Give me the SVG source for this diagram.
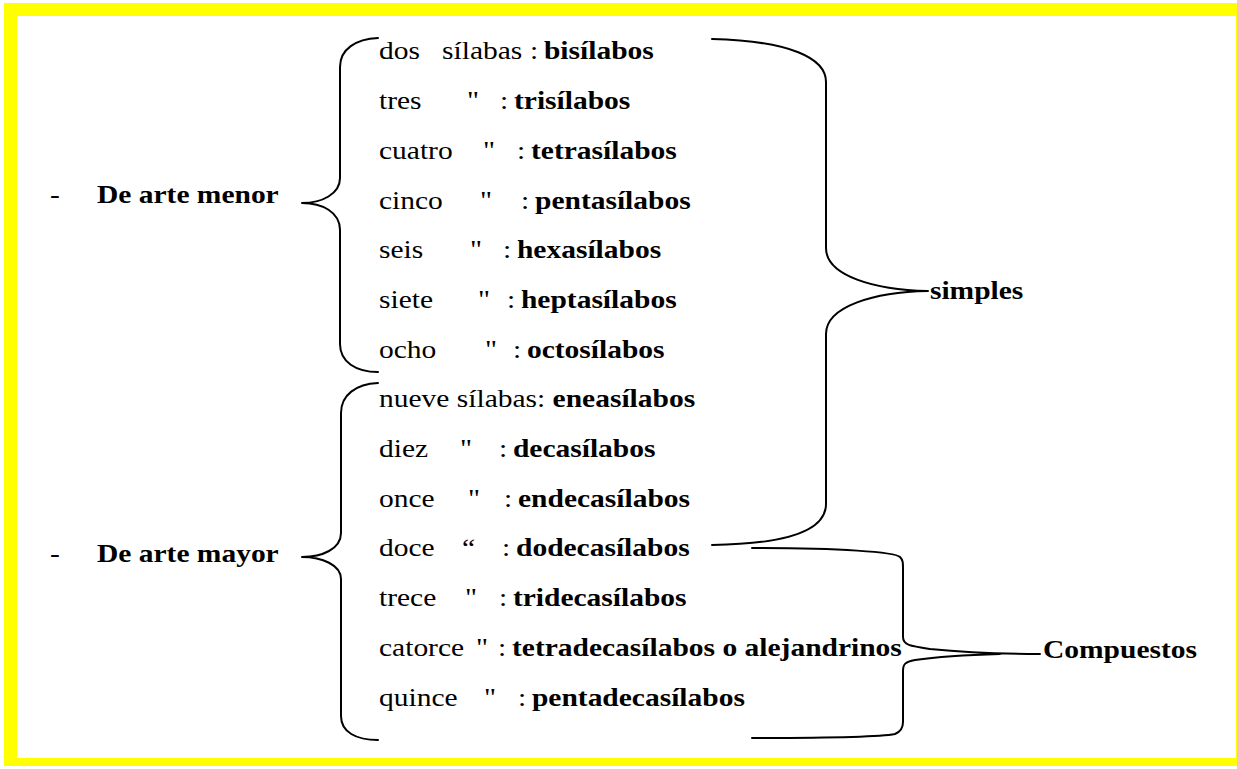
<svg xmlns="http://www.w3.org/2000/svg" width="1237" height="769" viewBox="0 0 1237 769">
<style>
text{font-family:"Liberation Serif","Times New Roman",serif;font-size:25px;fill:#000}
.b{font-weight:bold}
.br{fill:none;stroke:#000;stroke-width:2;stroke-linecap:round;stroke-linejoin:round}
</style>
<rect x="0" y="0" width="1237" height="769" fill="#fff"/>
<rect x="4" y="3" width="1233" height="763" fill="#ffff00"/>
<rect x="17" y="16" width="1219" height="742" fill="#fff"/>
<g id="connectors">
<path class="br" d="M378,38 C356,39 340,49 340,67 L340,178 C340,194 322,203 302,203 C322,203 340,212 340,230 L340,344 C340,362 356,372 378,372"/>
<path class="br" d="M378,383 C356,384 341,395 341,413 L341,533 C341,549 322,557 302,557 C322,557 341,565 341,579 L341,716 C341,732 356,740 378,740"/>
<path class="br" d="M712,39 C790,41 826,58 826,82 L826,248 C826,276 875,290 928,291 C875,292 826,306 826,334 L826,504 C826,530 790,544 712,545"/>
<path class="br" d="M752,548 C840,548 895,552 900,557 C903,560 903,563 903,568 L903,637 C903,645 910,646 930,649 C960,652 990,654 1040,654 M1000,654 C960,655 935,657 915,660 C905,662 903,664 903,671 L903,722 C903,728 900,732 895,734 C880,737 840,738 752,738"/>
</g>
<g transform="scale(1.18 1)">
<g id="menor"><text x="42.4" y="203">-</text><text class="b" x="82.2" y="203">De arte menor</text></g>
<g id="mayor"><text x="42.4" y="562">-</text><text class="b" x="82.2" y="562">De arte mayor</text></g>
<g id="simples"><text class="b" x="788.1" y="299">simples</text></g>
<g id="compuestos"><text class="b" x="883.9" y="658">Compuestos</text></g>
<g id="r1"><text x="321.2" y="59.5">dos</text><text x="374.6" y="59.5">sílabas</text><text x="449.2" y="59.5">:</text><text class="b" x="461" y="59.5">bisílabos</text></g>
<g id="r2"><text x="321.2" y="109.2">tres</text><text x="395.8" y="109.2">"</text><text x="423.7" y="109.2">:</text><text class="b" x="435.6" y="109.2">trisílabos</text></g>
<g id="r3"><text x="321.2" y="158.9">cuatro</text><text x="409.3" y="158.9">"</text><text x="438.1" y="158.9">:</text><text class="b" x="450" y="158.9">tetrasílabos</text></g>
<g id="r4"><text x="321.2" y="208.6">cinco</text><text x="406.8" y="208.6">"</text><text x="441.5" y="208.6">:</text><text class="b" x="453.4" y="208.6">pentasílabos</text></g>
<g id="r5"><text x="321.2" y="258.3">seis</text><text x="398.3" y="258.3">"</text><text x="426.3" y="258.3">:</text><text class="b" x="438.1" y="258.3">hexasílabos</text></g>
<g id="r6"><text x="321.2" y="308">siete</text><text x="405.1" y="308">"</text><text x="429.7" y="308">:</text><text class="b" x="441.5" y="308">heptasílabos</text></g>
<g id="r7"><text x="321.2" y="357.7">ocho</text><text x="411" y="357.7">"</text><text x="434.7" y="357.7">:</text><text class="b" x="446.6" y="357.7">octosílabos</text></g>
<g id="r8"><text x="321.2" y="407.4">nueve sílabas: <tspan class="b">eneasílabos</tspan></text></g>
<g id="r9"><text x="321.2" y="457.1">diez</text><text x="389.8" y="457.1">"</text><text x="422.9" y="457.1">:</text><text class="b" x="434.7" y="457.1">decasílabos</text></g>
<g id="r10"><text x="321.2" y="506.8">once</text><text x="396.6" y="506.8">"</text><text x="427.1" y="506.8">:</text><text class="b" x="439" y="506.8">endecasílabos</text></g>
<g id="r11"><text x="321.2" y="556.5">doce</text><text x="391.5" y="556.5">“</text><text x="425.4" y="556.5">:</text><text class="b" x="437.3" y="556.5">dodecasílabos</text></g>
<g id="r12"><text x="321.2" y="606.2">trece</text><text x="394.1" y="606.2">"</text><text x="422.9" y="606.2">:</text><text class="b" x="434.7" y="606.2">tridecasílabos</text></g>
<g id="r13"><text x="321.2" y="655.9">catorce</text><text x="403.4" y="655.9">"</text><text x="422" y="655.9">:</text><text class="b" x="433.9" y="655.9">tetradecasílabos o alejandrinos</text></g>
<g id="r14"><text x="321.2" y="705.6">quince</text><text x="410.2" y="705.6">"</text><text x="439" y="705.6">:</text><text class="b" x="450.8" y="705.6">pentadecasílabos</text></g>
</g>
</svg>
